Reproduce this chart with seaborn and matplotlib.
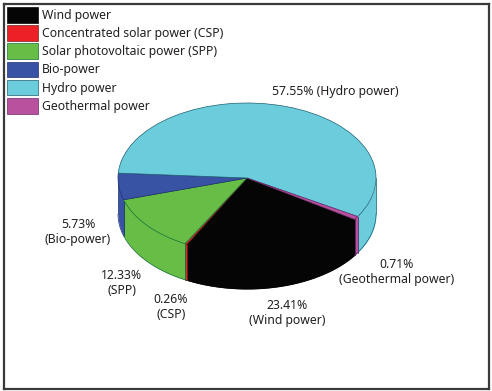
# Renewable power shares, fake-3D pie on a squashed axes

import numpy as np
import matplotlib
matplotlib.use('Agg')
import matplotlib.pyplot as plt
import seaborn as sns

sources = ['Wind power', 'Concentrated solar power (CSP)', 'Solar photovoltaic power (SPP)',
           'Bio-power', 'Hydro power', 'Geothermal power']
shares = [23.41, 0.26, 12.33, 5.73, 57.55, 0.71]
short_names = ['Wind power', 'CSP', 'SPP', 'Bio-power', 'Hydro power', 'Geothermal power']
colors = ['#050505', '#ee2027', '#67bd45', '#3953a4', '#6bccdc', '#b9519f']
edges = ['#050505', '#6b2a1c', '#14703a', '#1d2f70', '#1d5f70', '#6b2a6b']

W, H = 492, 391
FRAME = (4, 4, 489, 389)  # left, top, right, bottom in pixels
CX, CY, RX, RY = 247, 178, 129, 75
DEPTH = 36 / RY

sns.set_theme(style='white')
plt.rcParams['font.family'] = ['Noto Sans', 'DejaVu Sans']
text_color = '#231f20'


def px(x, y):
    return (x - CX) / RX, (CY - y) / RY


fig = plt.figure(figsize=(W / 100, H / 100), dpi=100)
ax = fig.add_axes([FRAME[0] / W, 1 - FRAME[3] / H, (FRAME[2] - FRAME[0]) / W, (FRAME[3] - FRAME[1]) / H])

wedges, _ = ax.pie(shares, colors=sns.color_palette(colors), startangle=-33.5, counterclock=False,
                   wedgeprops={'linewidth': 0.5, 'zorder': 2})
for w, e in zip(wedges, edges):
    w.set_edgecolor(e)
ax.set_aspect('auto')
ax.set_xlim(px(FRAME[0], 0)[0], px(FRAME[2], 0)[0])
ax.set_ylim(px(0, FRAME[3])[1], px(0, FRAME[1])[1])
ax.set_frame_on(True)
for s in ax.spines.values():
    s.set_color('#3a3a3a')
    s.set_linewidth(1.6)

# rim of the pie, only the part of each wedge facing front
for w, c, e in zip(wedges, colors, edges):
    for shift in (-360, 0, 360):
        a = max(w.theta1 + shift, -180)
        b = min(w.theta2 + shift, 0)
        if a >= b:
            continue
        t = np.radians(np.linspace(a, b, 80))
        # start the fill a bit inside the top so no seam shows under the wedge
        ax.fill_between(np.cos(t), np.sin(t) * 0.95, np.sin(t) - DEPTH, color=c, lw=0, zorder=1)
        ax.plot(np.cos(t), np.sin(t) - DEPTH, color=e, lw=0.5, zorder=1.5)
        ax.plot(np.cos(t[[0, 0]]), [np.sin(t[0]), np.sin(t[0]) - DEPTH], color=e, lw=0.5, zorder=1.5)
        ax.plot(np.cos(t[[-1, -1]]), [np.sin(t[-1]), np.sin(t[-1]) - DEPTH], color=e, lw=0.5, zorder=1.5)

label_pos = [(287, 313), (171, 307), (122, 283), (78, 232), (335, 91), (397, 272)]
for name, val, (x, y) in zip(short_names, shares, label_pos):
    sep = ' ' if name == 'Hydro power' else '\n'
    ax.text(*px(x, y), f'{val:.2f}%{sep}({name})', ha='center', va='center', fontsize=8.8,
            color=text_color, linespacing=1.12, zorder=5)

ax.legend(wedges, sources, loc='upper left', bbox_to_anchor=(0.0, 1.0), frameon=False, fontsize=8.8,
          handlelength=2.55, handleheight=1.6, labelspacing=0.2, handletextpad=0.3,
          borderaxespad=0.15, borderpad=0.1, labelcolor=text_color)

fig.savefig('out.png', dpi=100)
